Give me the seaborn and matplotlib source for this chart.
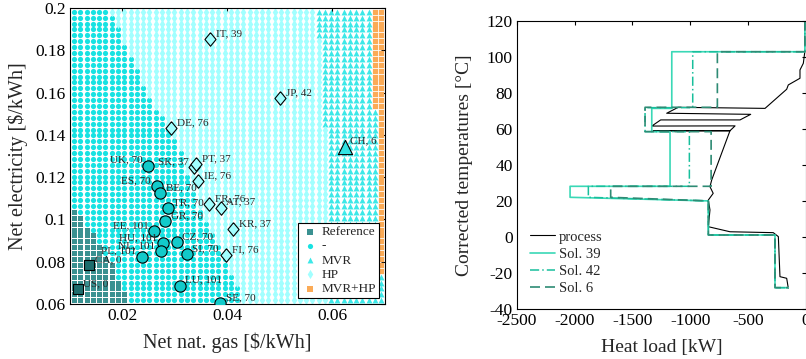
import numpy as np
import seaborn as sns
import matplotlib
matplotlib.use("Agg")
import matplotlib.pyplot as plt
from matplotlib.ticker import MultipleLocator, FuncFormatter

# ---------------- left panel: technology map over energy prices ----------------
# lattice of evaluated price pairs
gas_grid = np.linspace(0.0108, 0.0693, 50)
elec_grid = np.linspace(0.0618, 0.1982, 50)

# region boundaries (max/min gas price for each electricity price)
ref_y = [0.060, 0.066, 0.071, 0.077, 0.083, 0.088, 0.092, 0.097, 0.102, 0.105]
ref_x = [0.0216, 0.0205, 0.0195, 0.0183, 0.0170, 0.0157, 0.0145, 0.0133, 0.0121, 0.0110]
none_y = [0.06, 0.07, 0.08, 0.09, 0.10, 0.11, 0.12, 0.13, 0.14, 0.15, 0.16, 0.17, 0.18, 0.19, 0.20]
none_x = [0.0430, 0.0415, 0.0397, 0.0378, 0.0358, 0.0337, 0.0326, 0.0315, 0.0295, 0.0272, 0.0247, 0.0229, 0.0207, 0.0192, 0.0170]
mvr_y = [0.06, 0.1440, 0.1441, 0.1860, 0.1861, 0.20]
mvr_x = [0.0592, 0.0592, 0.0580, 0.0580, 0.0568, 0.0568]
mvrhp_y = [0.06, 0.0740, 0.0741, 0.1530, 0.1531, 0.20]
mvrhp_x = [0.0800, 0.0800, 0.0687, 0.0687, 0.0675, 0.0675]

# countries
countries = ["IT", "JP", "DE", "CH", "UK", "SK", "PT", "IE", "ES", "BE", "FR", "AT", "TR",
             "GR", "KR", "EE", "HU", "CZ", "NL", "PL", "SI", "FI", "CA", "LU", "US", "SE"]
sol_ids = [39, 42, 76, 6, 70, 37, 37, 76, 70, 70, 76, 37, 70,
           70, 37, 101, 101, 70, 101, 101, 70, 76, 0, 101, 0, 70]
gas_price = [0.0367, 0.0500, 0.0293, 0.0623, 0.0249, 0.0337, 0.0341, 0.0344, 0.0265, 0.0272, 0.0365, 0.0387, 0.0286,
             0.0281, 0.0411, 0.0261, 0.0277, 0.0303, 0.0273, 0.0237, 0.0322, 0.0398, 0.0137, 0.0309, 0.0115, 0.0386]
elec_price = [0.1852, 0.1573, 0.1431, 0.1344, 0.1254, 0.1248, 0.1262, 0.1182, 0.1158, 0.1123, 0.1073, 0.1055, 0.1052,
              0.0992, 0.0955, 0.0945, 0.0889, 0.0892, 0.0851, 0.0824, 0.0836, 0.0830, 0.0784, 0.0686, 0.0671, 0.0603]
tech = ["HP", "HP", "HP", "MVR", "-", "HP", "HP", "HP", "-", "-", "HP", "HP", "-",
        "-", "HP", "-", "-", "-", "-", "-", "-", "HP", "Reference", "-", "Reference", "-"]
left_labels = {"UK", "SK", "ES", "EE", "HU", "NL", "PL"}

# ---------------- right panel: corrected composite curves ----------------
process_kw = [-10, -23, -52, -52, -153, -167, -354, -1104, -1204, -478, -570, -1256, -1333, -613, -657,
              -1320, -657, -815, -830, -802, -844, -830, -844, -657, -283, -239, -225, -167, -153]
process_t = [103, 96.4, 92.7, 88.1, 84.4, 82.0, 71.4, 72.0, 68.7, 68.1, 65.0, 65.0, 61.6, 61.7, 59.0,
             59.0, 59.0, 31.7, 28.0, 24.3, 20.6, 15.1, 5.8, 3.0, 2.5, 0.3, -21.9, -22.8, -28.3]

sol39_kw = [-10, -10, -1160, -1160, -1333, -1333, -1175, -1175, -2039, -2039, -844, -844, -268, -268, -153]
sol39_t = [120, 102.8, 102.8, 71.4, 71.4, 58.5, 58.5, 28.2, 28.2, 22.1, 20.1, 1.2, 1.2, -28, -28]
sol42_kw = [-10, -10, -979, -979, -1391, -1391, -1008, -1008, -1881, -1881, -844, -844, -268, -268, -153]
sol42_t = [120, 102.8, 102.8, 71.8, 71.8, 58.5, 58.5, 28.2, 28.2, 22.1, 20.1, 1.2, 1.2, -28, -28]
sol6_kw = [-10, -10, -766, -766, -1391, -1391, -820, -820, -1688, -1688, -844, -844, -268, -268, -153]
sol6_t = [120, 102.8, 102.8, 72.0, 72.0, 58.5, 58.5, 28.2, 28.2, 22.1, 20.1, 1.2, 1.2, -28, -28]

# ---------------- styling ----------------
sns.set_style("white")
plt.rcParams["font.family"] = ["Liberation Serif", "DejaVu Serif"]
plt.rcParams["axes.unicode_minus"] = False
plt.rcParams["xtick.direction"] = "in"
plt.rcParams["ytick.direction"] = "in"
plt.rcParams["xtick.top"] = True
plt.rcParams["ytick.right"] = True

region_order = ["Reference", "-", "MVR", "HP", "MVR+HP"]
region_col = {"Reference": "#3a9191", "-": "#17e2e2", "MVR": "#3ce8e8", "HP": "#a2ffff", "MVR+HP": "#fbab57"}
region_mk = {"Reference": "s", "-": "o", "MVR": "^", "HP": "d", "MVR+HP": "s"}
region_s = {"Reference": 13, "-": 14, "MVR": 18, "HP": 22, "MVR+HP": 14}

big_col = {"Reference": "#1d6c6c", "-": "#12caca", "MVR": "#33e3e3", "HP": "#a2ffff"}
diamond = [(0, 1), (0.82, 0), (0, -1), (-0.82, 0), (0, 1)]
big_mk = {"Reference": "s", "-": "o", "MVR": "^", "HP": diamond}
big_s = {"Reference": 52, "-": 66, "MVR": 105, "HP": 95}

fig = plt.figure(figsize=(8.06, 3.59), dpi=100)
ax1 = fig.add_axes([0.0868, 0.1532, 0.3908, 0.8245])
ax2 = fig.add_axes([0.6411, 0.1384, 0.3589, 0.8039])

# background map
gg, ee = np.meshgrid(gas_grid, elec_grid)
gg = gg.ravel()
ee = ee.ravel()
cls = np.full(gg.shape, "HP", dtype=object)
cls[gg >= np.interp(ee, mvr_y, mvr_x)] = "MVR"
cls[gg >= np.interp(ee, mvrhp_y, mvrhp_x)] = "MVR+HP"
cls[gg <= np.interp(ee, none_y, none_x)] = "-"
cls[gg <= np.interp(ee, ref_y, ref_x, right=0.0)] = "Reference"

for name in region_order:
    m = cls == name
    sns.scatterplot(x=gg[m], y=ee[m], marker=region_mk[name], color=region_col[name],
                    s=region_s[name], linewidth=0, label=name, ax=ax1, zorder=1, snap=False)

# country points
tech_arr = np.array(tech)
gas_arr = np.array(gas_price)
elec_arr = np.array(elec_price)
for t in ["Reference", "-", "MVR", "HP"]:
    m = tech_arr == t
    sns.scatterplot(x=gas_arr[m], y=elec_arr[m], marker=big_mk[t], color=big_col[t],
                    s=big_s[t], edgecolor="black", linewidth=0.8, legend=False, ax=ax1, zorder=3)

for c, sid, x, y in zip(countries, sol_ids, gas_price, elec_price):
    if c in left_labels:
        ax1.annotate(f"{c}, {sid}", (x, y), xytext=(-4, 4), textcoords="offset points",
                     ha="right", va="center", fontsize=8, zorder=4)
    else:
        ax1.annotate(f"{c}, {sid}", (x, y), xytext=(4, 4), textcoords="offset points",
                     ha="left", va="center", fontsize=8, zorder=4)

ax1.set_xlim(0.01, 0.07)
ax1.set_ylim(0.06, 0.2)
ax1.xaxis.set_major_locator(MultipleLocator(0.02))
ax1.yaxis.set_major_locator(MultipleLocator(0.02))
fmt = FuncFormatter(lambda v, p: f"{v:g}")
ax1.xaxis.set_major_formatter(fmt)
ax1.yaxis.set_major_formatter(fmt)
ax1.tick_params(labelsize=12.5, length=3, width=0.8, colors="black", pad=3)
ax1.set_xlabel(r"Net nat. gas [\$/kWh]", fontsize=14.5, labelpad=6)
ax1.set_ylabel(r"Net electricity [\$/kWh]", fontsize=14.5, labelpad=5.5)

h, l = ax1.get_legend_handles_labels()
leg1 = ax1.legend(h[:5], l[:5], loc="lower right", bbox_to_anchor=(0.982, 0.019), fontsize=9.5,
                  frameon=True, fancybox=False, edgecolor="black", framealpha=1,
                  handletextpad=0.3, labelspacing=0.15, borderpad=0.25, handlelength=1.2,
                  borderaxespad=0)
leg1.get_frame().set_linewidth(0.8)

for sp in ax1.spines.values():
    sp.set_color("black")
    sp.set_linewidth(0.8)

# right panel
sns.lineplot(x=process_kw, y=process_t, sort=False, estimator=None, color="black",
             linewidth=0.8, label="process", ax=ax2)
sns.lineplot(x=sol39_kw, y=sol39_t, sort=False, estimator=None, color="#3ad8b6",
             linewidth=1.2, label="Sol. 39", ax=ax2)
sns.lineplot(x=sol42_kw, y=sol42_t, sort=False, estimator=None, color="#18bf9c",
             linewidth=1.1, linestyle=(0, (6, 2, 1, 2)), label="Sol. 42", ax=ax2)
sns.lineplot(x=sol6_kw, y=sol6_t, sort=False, estimator=None, color="#2e8b74",
             linewidth=1.2, linestyle=(0, (6, 3)), label="Sol. 6", ax=ax2)

ax2.set_xlim(-2500, 0)
ax2.set_ylim(-40, 120)
ax2.xaxis.set_major_locator(MultipleLocator(500))
ax2.yaxis.set_major_locator(MultipleLocator(20))
ax2.tick_params(labelsize=12.5, length=3, width=0.8, colors="black", pad=3)
ax2.set_xlabel("Heat load [kW]", fontsize=14, labelpad=6.5)
ax2.set_ylabel("Corrected temperatures [°C]", fontsize=14, labelpad=10)
ax2.legend(loc="lower left", bbox_to_anchor=(0.045, 0.048), frameon=False, fontsize=10.5,
           handlelength=1.7, handletextpad=0.3, labelspacing=0.28, borderpad=0, borderaxespad=0)
for sp in ax2.spines.values():
    sp.set_color("black")
    sp.set_linewidth(0.8)

fig.savefig("out.png", dpi=100)
